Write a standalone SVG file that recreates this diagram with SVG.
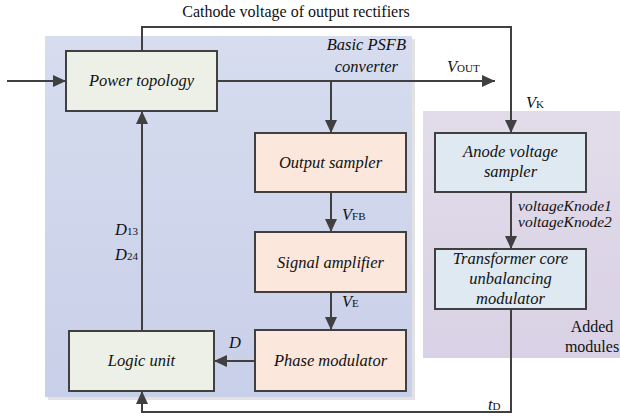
<svg xmlns="http://www.w3.org/2000/svg" width="620" height="417" viewBox="0 0 620 417">
<defs>
<linearGradient id="gBlue" x1="0" y1="0" x2="0" y2="1">
<stop offset="0" stop-color="#d7ddef"/>
<stop offset="1" stop-color="#c8cfe8"/>
</linearGradient>
<linearGradient id="gPurple" x1="0" y1="0" x2="0" y2="1">
<stop offset="0" stop-color="#e2dcea"/>
<stop offset="1" stop-color="#d9d1e5"/>
</linearGradient>
<marker id="arr" viewBox="0 0 13 12" refX="13" refY="6" markerWidth="13" markerHeight="12" markerUnits="userSpaceOnUse" orient="auto">
<path d="M0,0 L13,6 L0,12 Z" fill="#404040"/>
</marker>
</defs>
<style>
.box{stroke:#404040;stroke-width:2}
.green{fill:#edf0e6}
.orange{fill:#fbe7dc}
.lblue{fill:#dfe9f2}
.t{font-size:16.5px;font-style:italic;text-anchor:middle;fill:#111}
.n{font-size:16px;fill:#111}
.i{font-size:16.5px;font-style:italic;fill:#111}
.k{font-size:15.5px;font-style:italic;fill:#111}
.sub{font-style:normal;font-size:11px}
.c{fill:none;stroke:#404040;stroke-width:2}
</style>
<rect x="48" y="39" width="367" height="361" fill="#e2e2e2"/>
<rect x="45" y="36" width="367" height="361" fill="url(#gBlue)"/>
<rect x="423" y="111" width="197" height="247" fill="url(#gPurple)"/>
<g id="labels-regions" font-family="Liberation Serif, Times New Roman, serif">
<text class="i" x="406" y="50" text-anchor="end">Basic PSFB</text>
<text class="i" x="398" y="72" text-anchor="end">converter</text>
<text class="n" x="592" y="332" text-anchor="middle">Added</text>
<text class="n" x="592" y="352" text-anchor="middle">modules</text>
</g>
<g id="connectors" font-family="Liberation Serif, Times New Roman, serif">
<line class="c" x1="7" y1="81" x2="66" y2="81" marker-end="url(#arr)"/>
<polyline class="c" points="142,51 142,27 511,27 511,133" marker-end="url(#arr)"/>
<line class="c" x1="217" y1="81" x2="495" y2="81" marker-end="url(#arr)"/>
<line class="c" x1="331" y1="81" x2="331" y2="133" marker-end="url(#arr)"/>
<line class="c" x1="331" y1="192" x2="331" y2="232" marker-end="url(#arr)"/>
<line class="c" x1="331" y1="292" x2="331" y2="330" marker-end="url(#arr)"/>
<line class="c" x1="255" y1="361" x2="214" y2="361" marker-end="url(#arr)"/>
<line class="c" x1="142" y1="331" x2="142" y2="111" marker-end="url(#arr)"/>
<line class="c" x1="511" y1="192" x2="511" y2="249" marker-end="url(#arr)"/>
<polyline class="c" points="511,309 511,412 142,412 142,391" marker-end="url(#arr)"/>
<text class="n" x="296" y="17" text-anchor="middle" font-size="17">Cathode voltage of output rectifiers</text>
<text class="i" x="447" y="72">V<tspan class="sub">OUT</tspan></text>
<text class="i" x="526" y="108">V<tspan class="sub">K</tspan></text>
<text class="i" x="342" y="220">V<tspan class="sub">FB</tspan></text>
<text class="i" x="342" y="307">V<tspan class="sub">E</tspan></text>
<text class="i" x="229" y="348">D</text>
<text class="i" x="115" y="235">D<tspan class="sub">13</tspan></text>
<text class="i" x="115" y="260">D<tspan class="sub">24</tspan></text>
<text class="k" x="518" y="211">voltageKnode1</text>
<text class="k" x="518" y="227">voltageKnode2</text>
<text class="i" x="488" y="410">t<tspan class="sub">D</tspan></text>
</g>
<g id="power-topology" font-family="Liberation Serif, Times New Roman, serif">
<rect class="box green" x="66" y="51" width="151" height="60"/>
<text class="t" x="141.5" y="86">Power topology</text>
</g>
<g id="output-sampler" font-family="Liberation Serif, Times New Roman, serif">
<rect class="box orange" x="255" y="133" width="151" height="59"/>
<text class="t" x="330.5" y="168">Output sampler</text>
</g>
<g id="signal-amplifier" font-family="Liberation Serif, Times New Roman, serif">
<rect class="box orange" x="255" y="232" width="151" height="60"/>
<text class="t" x="330.5" y="268">Signal amplifier</text>
</g>
<g id="phase-modulator" font-family="Liberation Serif, Times New Roman, serif">
<rect class="box orange" x="255" y="330" width="151" height="61"/>
<text class="t" x="330.5" y="366">Phase modulator</text>
</g>
<g id="logic-unit" font-family="Liberation Serif, Times New Roman, serif">
<rect class="box green" x="69" y="331" width="145" height="60"/>
<text class="t" x="141.5" y="366">Logic unit</text>
</g>
<g id="anode-voltage-sampler" font-family="Liberation Serif, Times New Roman, serif">
<rect class="box lblue" x="435" y="133" width="151" height="59"/>
<text class="t" x="510.5" y="157">Anode voltage</text>
<text class="t" x="510.5" y="177">sampler</text>
</g>
<g id="transformer-core-modulator" font-family="Liberation Serif, Times New Roman, serif">
<rect class="box lblue" x="435" y="249" width="151" height="60"/>
<text class="t" x="510.5" y="264">Transformer core</text>
<text class="t" x="510.5" y="284">unbalancing</text>
<text class="t" x="510.5" y="304">modulator</text>
</g>
</svg>
